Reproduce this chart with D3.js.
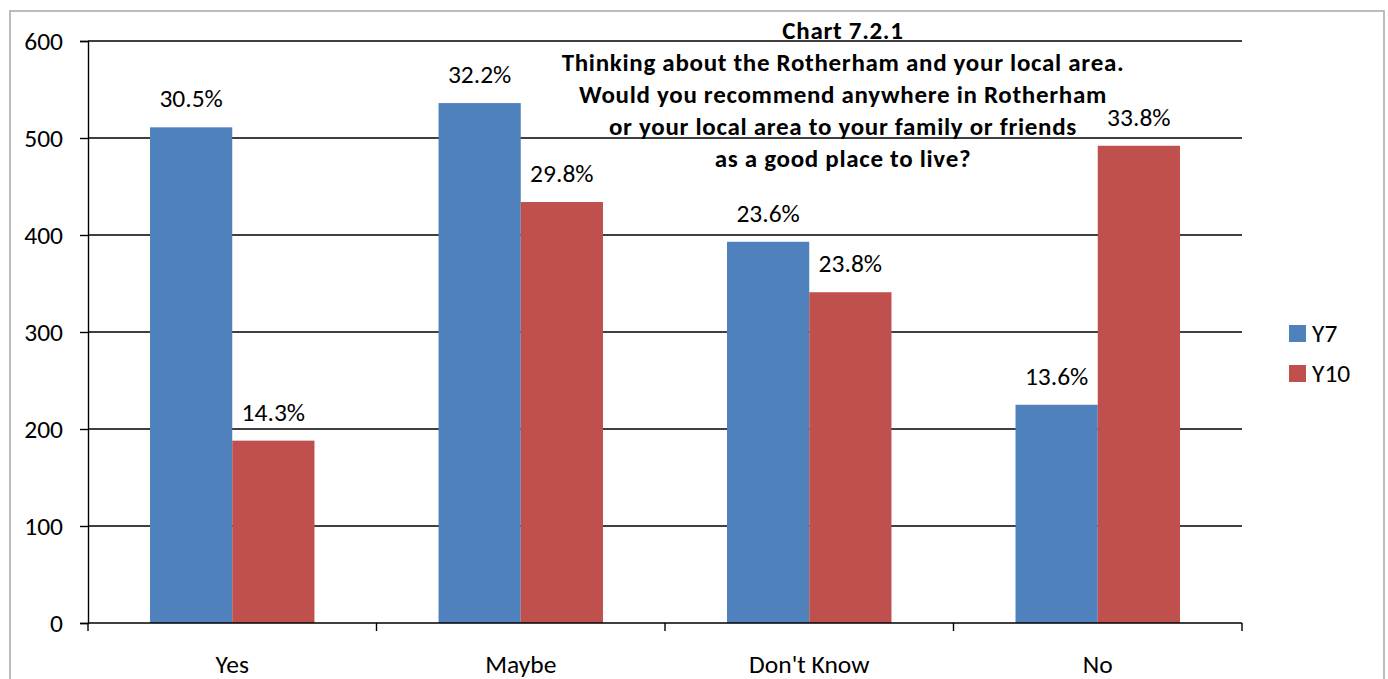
<!DOCTYPE html>
<html><head><meta charset="utf-8">
<script src="https://cdn.jsdelivr.net/npm/d3@7"></script>
<style>
html,body{margin:0;padding:0;background:#fff;}
svg{display:block;}
text{font-family:Calibri, Carlito, Lato, "Open Sans", sans-serif;fill:#000;}
</style></head>
<body>
<svg id="c" width="1388" height="679"></svg>
<script>
const categories = ["Yes", "Maybe", "Don't Know", "No"];
const seriesNames = ["Y7", "Y10"];
const y7Values = [511, 536, 393, 225];
const y10Values = [188, 434, 341, 492];
const y7Labels = ["30.5%", "32.2%", "23.6%", "13.6%"];
const y10Labels = ["14.3%", "29.8%", "23.8%", "33.8%"];
const yTicks = [0, 100, 200, 300, 400, 500, 600];
const titleLines = ["Chart 7.2.1", "Thinking about the Rotherham and your local area.",
  "Would you recommend anywhere in Rotherham", "or your local area to your family or friends",
  "as a good place to live?"];
const colors = ["#4F81BD", "#C0504D"];

(function () {
const svg = d3.select("#c");
const FS = 25.5;
svg.append("rect").attr("x", 10).attr("y", 11).attr("width", 1374).attr("height", 700)
  .attr("fill", "#fff").attr("stroke", "#a6a6a6").attr("stroke-width", 1.5);

const pLeft = 88, pRight = 1242, pTop = 41, pBottom = 623;
const y = d3.scaleLinear().domain([0, 600]).range([pBottom, pTop]);
const x0 = d3.scaleBand().domain(categories).range([pLeft, pRight]).paddingInner(0.43).paddingOuter(0.215);
const x1 = d3.scaleBand().domain(seriesNames).range([0, x0.bandwidth()]);

// gridlines
svg.append("g").selectAll("line").data(yTicks.filter(t => t > 0)).join("line")
  .attr("x1", pLeft).attr("x2", pRight).attr("y1", d => y(d)).attr("y2", d => y(d))
  .attr("stroke", "#000").attr("stroke-width", 1.4);

// y axis
const yAxis = svg.append("g").attr("transform", `translate(${pLeft},0)`)
  .call(d3.axisLeft(y).tickValues(yTicks).tickSize(8).tickPadding(17));
yAxis.select(".domain").attr("stroke", "#000").attr("stroke-width", 1.4);
yAxis.selectAll(".tick line").attr("stroke", "#000").attr("stroke-width", 1.4);
yAxis.selectAll(".tick text").attr("font-size", FS).attr("font-family", "Calibri, Carlito, Lato, sans-serif").attr("fill", "#000");

// bars
const data = categories.map((c, i) => ({c, vals: [y7Values[i], y10Values[i]], labs: [y7Labels[i], y10Labels[i]]}));
const groups = svg.append("g").selectAll("g").data(data).join("g")
  .attr("transform", d => `translate(${x0(d.c)},0)`);
groups.selectAll("rect").data(d => d.vals.map((v, j) => ({s: seriesNames[j], v, j}))).join("rect")
  .attr("x", d => x1(d.s)).attr("width", x1.bandwidth())
  .attr("y", d => y(d.v)).attr("height", d => y(0) - y(d.v))
  .attr("fill", d => colors[d.j]);

// x axis
const step = x0.step();
const bounds = categories.map(c => x0(c) - step * x0.paddingInner() / 2).concat([pRight]);
bounds[0] = pLeft;
svg.append("line").attr("x1", pLeft).attr("x2", pRight).attr("y1", y(0)).attr("y2", y(0))
  .attr("stroke", "#000").attr("stroke-width", 1.6);
svg.append("g").selectAll("line").data(bounds).join("line")
  .attr("x1", d => d).attr("x2", d => d).attr("y1", y(0)).attr("y2", y(0) + 8)
  .attr("stroke", "#000").attr("stroke-width", 1.4);
svg.append("g").selectAll("text").data(categories).join("text")
  .attr("x", d => x0(d) + x0.bandwidth() / 2).attr("y", 673)
  .attr("text-anchor", "middle").attr("font-size", FS).text(d => d);

// title
svg.append("g").selectAll("text").data(titleLines).join("text")
  .attr("x", 843).attr("y", (d, i) => 38.5 + i * 32.1)
  .attr("text-anchor", "middle").attr("font-size", 25).attr("font-weight", "bold")
  .attr("letter-spacing", 0.7).text(d => d);

// data labels
groups.selectAll("text").data(d => d.vals.map((v, j) => ({s: seriesNames[j], v, l: d.labs[j]}))).join("text")
  .attr("x", d => x1(d.s) + x1.bandwidth() / 2).attr("y", d => y(d.v) - 20)
  .attr("text-anchor", "middle").attr("font-size", FS).text(d => d.l);

// legend
const lg = svg.append("g").selectAll("g").data(seriesNames).join("g")
  .attr("transform", (d, i) => `translate(1289,${325 + i * 40})`);
lg.append("rect").attr("width", 17).attr("height", 17).attr("fill", (d, i) => colors[i]);
lg.append("text").attr("x", 23).attr("y", 17).attr("font-size", FS).text(d => d);
})();
</script>
</body></html>
